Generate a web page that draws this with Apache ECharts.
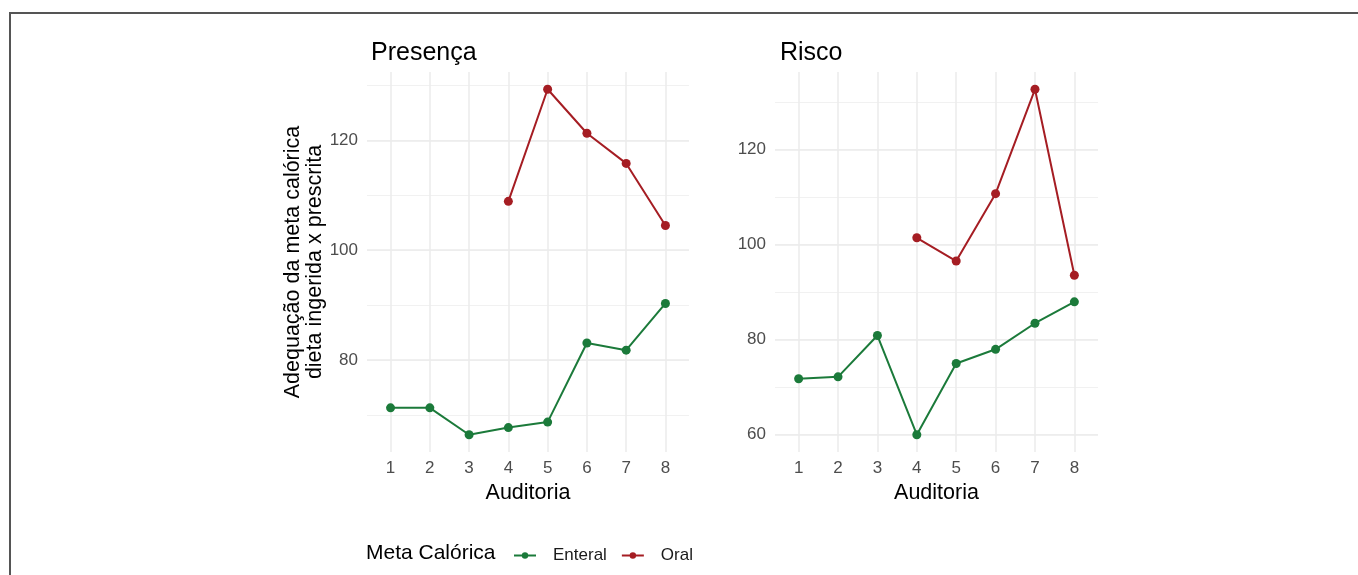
<!DOCTYPE html>
<html>
<head>
<meta charset="utf-8">
<script src="https://cdn.jsdelivr.net/npm/echarts@6/dist/echarts.min.js"></script>
<style>
html,body{margin:0;padding:0;background:#fff;}
#c{width:1358px;height:575px;}
</style>
</head>
<body>
<div id="c"></div>
<script>
// ---- data ----
const auditorias = [1, 2, 3, 4, 5, 6, 7, 8];
const panelTitles = ['Presença', 'Risco'];
const presencaEnteral = [71.3, 71.3, 66.4, 67.7, 68.7, 83.1, 81.8, 90.3];
const presencaOral = [null, null, null, 108.9, 129.3, 121.3, 115.8, 104.5];
const riscoEnteral = [71.7, 72.1, 80.8, 59.9, 74.9, 77.9, 83.4, 87.9];
const riscoOral = [null, null, null, 101.4, 96.5, 110.7, 132.7, 93.5];
const seriesNames = ['Enteral', 'Oral'];
const legendTitle = 'Meta Calórica';
const xTitle = 'Auditoria';
const yTitle = 'Adequação da meta calórica\ndieta ingerida x prescrita';

const GREEN = '#1b7a3a';
const RED = '#a51d23';
const LABEL = '#4d4d4d';
const FONT = 'Liberation Sans, Arial, sans-serif';

function pairs(vals) {
  return auditorias.map((x, i) => vals[i] == null ? null : [x, vals[i]]).filter(p => p);
}
function expand(arrs) {
  const all = [].concat(...arrs).filter(v => v != null);
  const lo = Math.min(...all), hi = Math.max(...all), pad = (hi - lo) * 0.05;
  return [lo - pad, hi + pad];
}
const extP = expand([presencaEnteral, presencaOral]);
const extR = expand([riscoEnteral, riscoOral]);

const grids = [
  {left: 367, top: 72, width: 322, height: 380},
  {left: 775, top: 72, width: 323, height: 380}
];

function xAxis(gi) {
  return {
    type: 'value', gridIndex: gi, min: 0.4, max: 8.6,
    minInterval: 1, maxInterval: 1,
    name: xTitle, nameLocation: 'middle', nameGap: 29,
    nameTextStyle: {fontFamily: FONT, fontSize: 21.5, color: '#000'},
    axisLine: {show: false}, axisTick: {show: false},
    axisLabel: {color: LABEL, fontFamily: FONT, fontSize: 17, margin: 8, showMinLabel: false, showMaxLabel: false},
    splitLine: {show: true, showMinLine: false, showMaxLine: false, lineStyle: {color: '#ebebeb', width: 1.5}}
  };
}
function yAxes(gi, ext, withName) {
  const minor = {
    type: 'value', gridIndex: gi, min: ext[0], max: ext[1],
    minInterval: 10, maxInterval: 10,
    axisLine: {show: false}, axisTick: {show: false}, axisLabel: {show: false},
    splitLine: {show: true, showMinLine: false, showMaxLine: false, lineStyle: {color: '#f1f1f1', width: 1}}
  };
  const major = {
    type: 'value', gridIndex: gi, min: ext[0], max: ext[1],
    minInterval: 20, maxInterval: 20, position: 'left',
    axisLine: {show: false}, axisTick: {show: false},
    axisLabel: {color: LABEL, fontFamily: FONT, fontSize: 17, margin: 9, showMinLabel: false, showMaxLabel: false},
    splitLine: {show: true, showMinLine: false, showMaxLine: false, lineStyle: {color: '#ebebeb', width: 1.5}}
  };
  if (withName) {
    major.name = yTitle;
    major.nameLocation = 'middle';
    major.nameRotate = 90;
    major.nameGap = 39;
    major.nameTextStyle = {fontFamily: FONT, fontSize: 21.5, color: '#000', lineHeight: 22};
  }
  return [minor, major];
}

function lineSeries(name, vals, gi, color) {
  return {
    type: 'line', name: name, xAxisIndex: gi, yAxisIndex: gi * 2 + 1,
    data: pairs(vals), symbol: 'circle', symbolSize: 9,
    itemStyle: {color: color}, lineStyle: {color: color, width: 2},
    emphasis: {disabled: true}, animation: false, z: 3
  };
}

const chart = echarts.init(document.getElementById('c'), null, {renderer: 'canvas'});
chart.setOption({
  backgroundColor: '#fff',
  animation: false,
  title: [
    {text: panelTitles[0], left: 366, top: 36, textStyle: {fontFamily: FONT, fontSize: 25, fontWeight: 'normal', color: '#000'}},
    {text: panelTitles[1], left: 775, top: 36, textStyle: {fontFamily: FONT, fontSize: 25, fontWeight: 'normal', color: '#000'}}
  ],
  grid: grids,
  xAxis: [xAxis(0), xAxis(1)],
  yAxis: [...yAxes(0, extP, true), ...yAxes(1, extR, false)],
  legend: {
    data: seriesNames, left: 508, top: 542, orient: 'horizontal',
    itemWidth: 22, itemHeight: 8, itemGap: 14,
    textStyle: {fontFamily: FONT, fontSize: 17, color: '#1a1a1a', padding: [0, 0, 0, 12]},
    selectedMode: false
  },
  graphic: [
    {type: 'text', left: 366, top: 543, style: {text: legendTitle, fontFamily: FONT, fontSize: 21, fill: '#000'}},
    {type: 'polyline', shape: {points: [[10, 575], [10, 13], [1358, 13]]}, style: {stroke: '#555', lineWidth: 2, fill: null}}
  ],
  series: [
    lineSeries(seriesNames[0], presencaEnteral, 0, GREEN),
    lineSeries(seriesNames[1], presencaOral, 0, RED),
    lineSeries(seriesNames[0], riscoEnteral, 1, GREEN),
    lineSeries(seriesNames[1], riscoOral, 1, RED)
  ]
});
</script>
</body>
</html>
